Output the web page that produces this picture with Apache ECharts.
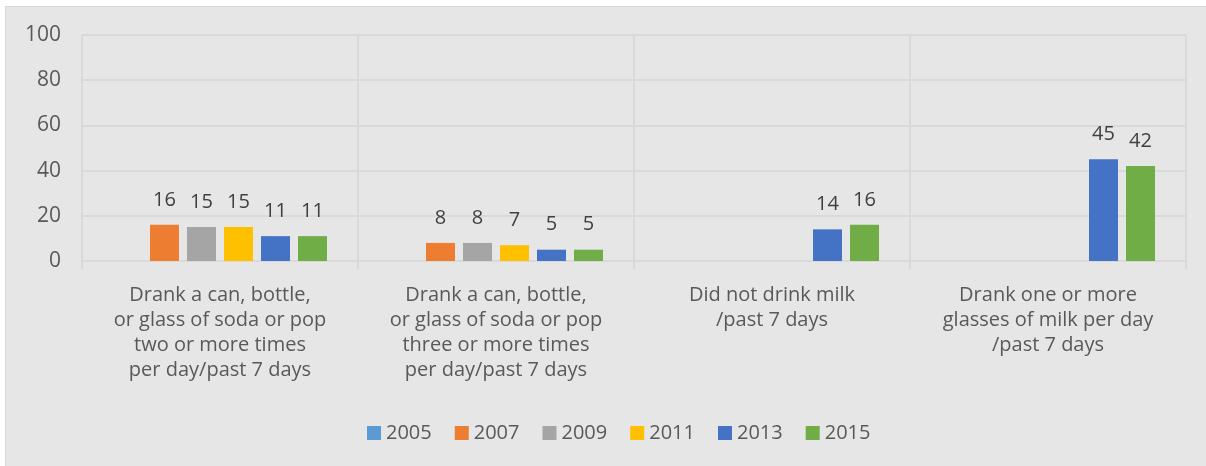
<!DOCTYPE html>
<html>
<head>
<meta charset="utf-8">
<script src="https://cdn.jsdelivr.net/npm/echarts@6/dist/echarts.min.js"></script>
<style>
html,body{margin:0;padding:0;background:#ffffff;width:1206px;height:466px;overflow:hidden;}
#wrap{position:absolute;left:5px;top:6px;width:1200px;height:459px;border-left:1px solid #d9d9d9;border-top:1px solid #d9d9d9;background:#e6e6e6;}
#chart{width:1200px;height:459px;}
</style>
</head>
<body>
<div id="wrap"><div id="chart"></div></div>
<script>
var categories = [
  "Drank a can, bottle,\nor glass of soda or pop\ntwo or more times\nper day/past 7 days",
  "Drank a can, bottle,\nor glass of soda or pop\nthree or more times\nper day/past 7 days",
  "Did not drink milk\n/past 7 days",
  "Drank one or more\nglasses of milk per day\n/past 7 days"
];
var years = ["2005", "2007", "2009", "2011", "2013", "2015"];
var v2005 = [null, null, null, null];
var v2007 = [16, 8, null, null];
var v2009 = [15, 8, null, null];
var v2011 = [15, 7, null, null];
var v2013 = [11, 5, 14, 45];
var v2015 = [11, 5, 16, 42];
var yTicks = [0, 20, 40, 60, 80, 100];

var values = [v2005, v2007, v2009, v2011, v2013, v2015];
var colors = ["#5b9bd5", "#ed7d31", "#a5a5a5", "#ffc000", "#4472c4", "#70ad47"];
var FONT = "'Open Sans', 'Noto Sans', sans-serif";

var series = years.map(function (y, i) {
  return {
    name: y,
    type: "bar",
    data: values[i],
    barWidth: 29,
    barGap: "27.6%",
    barCategoryGap: "22%",
    itemStyle: { color: colors[i] },
    label: {
      show: true,
      position: "top",
      distance: 15,
      color: "#404040",
      fontSize: 20,
      fontFamily: FONT
    }
  };
});

var chart = echarts.init(document.getElementById("chart"));
chart.setOption({
  animation: false,
  backgroundColor: "#e6e6e6",
  textStyle: { fontFamily: FONT },
  grid: { left: 76, right: 20, top: 28, height: 226 },
  legend: {
    data: years,
    bottom: 18,
    left: 356,
    itemWidth: 14,
    itemHeight: 14,
    itemGap: 23,
    icon: "rect",
    textStyle: { color: "#595959", fontSize: 20, fontFamily: FONT }
  },
  xAxis: {
    type: "category",
    data: categories,
    boundaryGap: true,
    axisLine: { show: true, lineStyle: { color: "#d9d9d9", width: 2 } },
    axisTick: { show: true, length: 8, lineStyle: { color: "#d9d9d9", width: 2 } },
    splitLine: { show: true, lineStyle: { color: "#d9d9d9", width: 2 } },
    axisLabel: {
      color: "#595959",
      fontSize: 20,
      fontFamily: FONT,
      lineHeight: 25,
      margin: 22,
      interval: 0
    }
  },
  yAxis: {
    type: "value",
    min: yTicks[0],
    max: yTicks[yTicks.length - 1],
    interval: yTicks[1] - yTicks[0],
    axisLine: { show: false },
    axisTick: { show: false },
    splitLine: { lineStyle: { color: "#d9d9d9", width: 2 } },
    axisLabel: { color: "#595959", fontSize: 21, fontFamily: FONT, margin: 21 }
  },
  series: series
});
</script>
</body>
</html>
